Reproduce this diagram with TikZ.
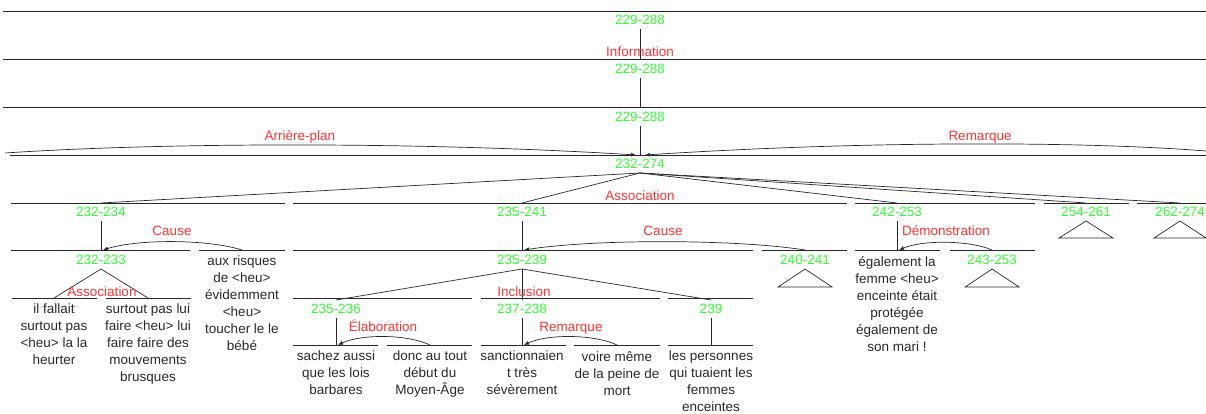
\documentclass[tikz,border=0pt]{standalone}
\usepackage{fontspec}
\setmainfont{Liberation Sans}
\usetikzlibrary{arrows.meta}
\definecolor{spangreen}{RGB}{51,255,51}
\definecolor{relred}{RGB}{255,51,51}
\definecolor{inkgray}{RGB}{40,40,40}
\tikzset{
  every node/.style={font=\fontsize{13.5}{17}\selectfont},
  spanlbl/.style={text=spangreen, text height=9.6pt, text depth=0pt, inner xsep=1pt, inner ysep=4pt},
  rellbl/.style={text=relred, text height=9.6pt, text depth=0pt, inner sep=1pt},
  edutxt/.style={text=inkgray, align=center, anchor=north, inner sep=0pt},
  spanrule/.style={draw=inkgray, line width=0.9pt},
  branch/.style={draw=inkgray, line width=0.7pt},
  satlink/.style={branch, -{Latex[length=5pt,width=4pt]}}
}
\begin{document}
\begin{tikzpicture}[x=1pt,y=-1pt]
  \useasboundingbox (0,0) rectangle (1206,414);
  % rules under each span
  \foreach \yy/\xa/\xb in {11/3/1206, 59/3/1206, 107/3/1206, 155/10/1206,
    203/11/285, 203/293/847, 203/855/1035, 203/1044/1129, 203/1137/1206,
    250/11/190, 250/199/285, 250/293/753, 250/762/847, 250/855/940, 250/950/1035,
    298/12/97, 298/106/191, 298/293/472, 298/481/660, 298/668/753,
    345/293/378, 345/387/472, 345/481/566, 345/574/660, 345/668/753}
    \draw[spanrule] (\xa,\yy) -- (\xb,\yy);
  % top chain
  \node[spanlbl] (t1) at (640,20) {229-288};
  \node[spanlbl] (t2) at (640,69) {229-288};
  \node[spanlbl] (t3) at (640,117) {229-288};
  \node[spanlbl] (t4) at (640,164) {232-274};
  \draw[branch] (t1.south) -- (t2.north);
  \draw[branch] (t2.south) -- (t3.north);
  \draw[branch] (t3.south) -- (t4.north);
  \node[rellbl] (r1) at (640,52) {Information};
  % satellites of 232-274
  \coordinate (apl) at (5,153);
  \coordinate (rem) at (1206,151);
  \draw[satlink] (apl) .. controls (170,142) and (430,142) .. ([xshift=-4pt]t4.north);
  \draw[satlink] (rem) .. controls (1080,141) and (860,141) .. ([xshift=5pt]t4.north);
  \node[rellbl] (r2) at (300,136) {Arrière-plan};
  \node[rellbl] (r3) at (980,136) {Remarque};
  % level 2
  \node[spanlbl] (c1) at (101,212) {232-234};
  \node[spanlbl] (c2) at (522,212) {235-241};
  \node[spanlbl] (c3) at (897,212) {242-253};
  \node[spanlbl] (c4) at (1086,212) {254-261};
  \node[spanlbl] (c5) at (1180,212) {262-274};
  \foreach \c in {c1,c2,c3,c4,c5}
    \draw[branch] (t4.south) -- (\c.north);
  \node[rellbl] (r4) at (640,196) {Association};
  \draw[branch] (c4.south) -- ++(-27,17) -- ++(54,0) -- cycle;
  \draw[branch] (c5.south) -- ++(-26,17) -- ++(52,0) -- cycle;
  % 232-234
  \node[spanlbl] (d1) at (101,260) {232-233};
  \node[edutxt] (s1) at (242,256) {aux risques\\de <heu>\\évidemment\\<heu>\\toucher le le\\bébé};
  \draw[branch] (c1.south) -- (d1.north);
  \draw[satlink] ([yshift=6pt]s1.north) .. controls +(-35,-11) and +(35,-11) .. ([xshift=2pt,yshift=1pt]d1.north);
  \node[rellbl] (r5) at (172,231) {Cause};
  \node[edutxt] (e1) at (54,304) {il fallait\\surtout pas\\<heu> la la\\heurter};
  \node[edutxt] (e2) at (148,304) {surtout pas lui\\faire <heu> lui\\faire faire des\\mouvements\\brusques};
  \draw[branch] ([yshift=6pt]e1.north) -- (d1.south) -- ([yshift=6pt]e2.north);
  \node[rellbl] (r6) at (102,292) {Association};
  % 235-241
  \node[spanlbl] (d2) at (522,260) {235-239};
  \node[spanlbl] (d3) at (805,260) {240-241};
  \draw[branch] (c2.south) -- (d2.north);
  \draw[branch] (d3.south) -- ++(-27,18) -- ++(54,0) -- cycle;
  \draw[satlink] ([yshift=1pt]d3.north) .. controls +(-70,-11) and +(70,-11) .. ([xshift=2pt,yshift=1pt]d2.north);
  \node[rellbl] (r7) at (663,231) {Cause};
  \node[spanlbl] (f1) at (336,309) {235-236};
  \node[spanlbl] (f2) at (522,309) {237-238};
  \node[spanlbl] (f3) at (711,309) {239};
  \foreach \f in {f1,f2,f3}
    \draw[branch] (d2.south) -- (\f.north);
  \node[rellbl] (r8) at (524,292) {Inclusion};
  \node[edutxt] (g1) at (336,351) {sachez aussi\\que les lois\\barbares};
  \node[edutxt] (g2) at (430,351) {donc au tout\\début du\\Moyen-Âge};
  \draw[branch] (f1.south) -- ([yshift=6pt]g1.north);
  \draw[satlink] ([yshift=6pt]g2.north) .. controls +(-23,-11) and +(23,-11) .. ([xshift=2pt,yshift=6pt]g1.north);
  \node[rellbl] (r9) at (383,327) {Élaboration};
  \node[edutxt] (g3) at (522,351) {sanctionnaien\\t très\\sévèrement};
  \node[edutxt] (g4) at (617,351) {voire même\\de la peine de\\mort};
  \draw[branch] (f2.south) -- ([yshift=6pt]g3.north);
  \draw[satlink] ([yshift=6pt]g4.north) .. controls +(-23,-11) and +(23,-11) .. ([xshift=2pt,yshift=6pt]g3.north);
  \node[rellbl] (r10) at (571,327) {Remarque};
  \node[edutxt] (g5) at (711,351) {les personnes\\qui tuaient les\\femmes\\enceintes};
  \draw[branch] (f3.south) -- ([yshift=6pt]g5.north);
  % 242-253
  \node[edutxt] (h1) at (897,256) {également la\\femme <heu>\\enceinte était\\protégée\\également de\\son mari !};
  \node[spanlbl] (h2) at (992,260) {243-253};
  \draw[branch] (c3.south) -- ([yshift=6pt]h1.north);
  \draw[branch] (h2.south) -- ++(-27,18) -- ++(54,0) -- cycle;
  \draw[satlink] ([yshift=1pt]h2.north) .. controls +(-23,-10) and +(23,-10) .. ([xshift=2pt,yshift=6pt]h1.north);
  \node[rellbl] (r11) at (946,231) {Démonstration};
\end{tikzpicture}
\end{document}
